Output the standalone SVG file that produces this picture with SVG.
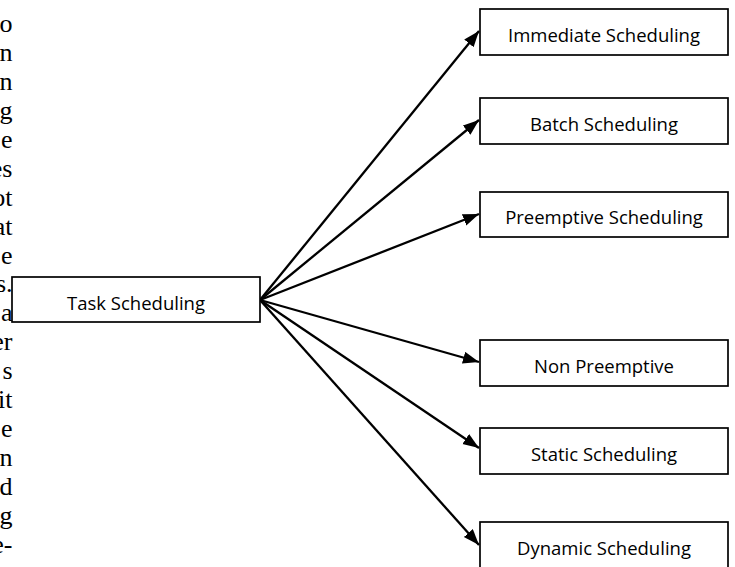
<svg xmlns="http://www.w3.org/2000/svg" width="735" height="567" viewBox="0 0 735 567">
<style>
.bg{fill:#ffffff}
.box{fill:#ffffff;stroke:#000000;stroke-width:1.7}
.lbl{font-family:"Open Sans","Liberation Sans",sans-serif;font-size:18.5px;fill:#000000;text-anchor:middle}
.para{font-family:"Liberation Serif","Times New Roman",serif;font-size:26px;fill:#000000;text-anchor:end}
.conn{fill:none;stroke:#000000;stroke-width:2.3}
</style>
<defs>
<marker id="arr" markerUnits="userSpaceOnUse" markerWidth="17" markerHeight="13" refX="16" refY="6" orient="auto">
<path d="M0,0 L16,6 L0,12 z" fill="#000000"/>
</marker>
</defs>
<rect class="bg" x="0" y="0" width="735" height="567"/>
<g id="paragraph">
<text class="para" x="12.5" y="32">o</text>
<text class="para" x="12.5" y="61">n</text>
<text class="para" x="12.5" y="90">n</text>
<text class="para" x="12.5" y="119">g</text>
<text class="para" x="12.5" y="148">e</text>
<text class="para" x="12.5" y="177">es</text>
<text class="para" x="12.5" y="206">ot</text>
<text class="para" x="12.5" y="235">at</text>
<text class="para" x="12.5" y="264">e</text>
<text class="para" x="12.5" y="292">s.</text>
<text class="para" x="12.5" y="321">a</text>
<text class="para" x="12.5" y="350">er</text>
<text class="para" x="12.5" y="379">s</text>
<text class="para" x="12.5" y="408">it</text>
<text class="para" x="12.5" y="437">e</text>
<text class="para" x="12.5" y="466">n</text>
<text class="para" x="12.5" y="495">d</text>
<text class="para" x="12.5" y="524">g</text>
<text class="para" x="12.5" y="553">e-</text>
</g>
<g id="connectors">
<path class="conn" d="M260,300 L479,31" marker-end="url(#arr)"/>
<path class="conn" d="M260,300 L479,120" marker-end="url(#arr)"/>
<path class="conn" d="M260,300 L479,214" marker-end="url(#arr)"/>
<path class="conn" d="M260,300 L479,362" marker-end="url(#arr)"/>
<path class="conn" d="M260,300 L479,448" marker-end="url(#arr)"/>
<path class="conn" d="M260,300 L479,545" marker-end="url(#arr)"/>
</g>
<g id="task-scheduling">
<rect class="box" x="12" y="277" width="248" height="45"/>
<text class="lbl" x="136" y="309.5">Task Scheduling</text>
</g>
<g id="immediate-scheduling">
<rect class="box" x="480" y="9" width="248" height="46"/>
<text class="lbl" x="604" y="41.5">Immediate Scheduling</text>
</g>
<g id="batch-scheduling">
<rect class="box" x="480" y="98" width="248" height="46"/>
<text class="lbl" x="604" y="130.5">Batch Scheduling</text>
</g>
<g id="preemptive-scheduling">
<rect class="box" x="480" y="192" width="248" height="45"/>
<text class="lbl" x="604" y="224">Preemptive Scheduling</text>
</g>
<g id="non-preemptive">
<rect class="box" x="480" y="340" width="248" height="46"/>
<text class="lbl" x="604" y="372.5">Non Preemptive</text>
</g>
<g id="static-scheduling">
<rect class="box" x="480" y="428" width="248" height="46"/>
<text class="lbl" x="604" y="460.5">Static Scheduling</text>
</g>
<g id="dynamic-scheduling">
<rect class="box" x="480" y="522" width="248" height="46"/>
<text class="lbl" x="604" y="554.5">Dynamic Scheduling</text>
</g>
</svg>
